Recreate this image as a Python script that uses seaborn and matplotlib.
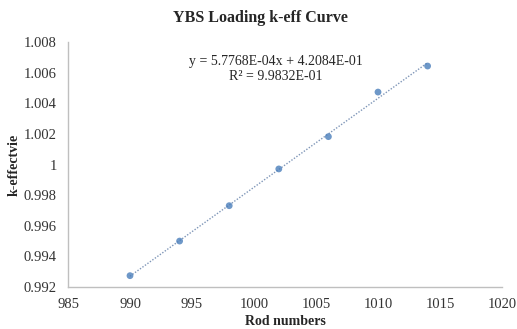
import numpy as np
import pandas as pd
import matplotlib
matplotlib.use("Agg")
import matplotlib.pyplot as plt
import seaborn as sns

rod_numbers = [990, 994, 998, 1002, 1006, 1010, 1014]
k_eff = [0.99274, 0.99500, 0.99731, 0.99971, 1.00182, 1.00473, 1.00643]
x_ticks = [985, 990, 995, 1000, 1005, 1010, 1015, 1020]
y_ticks = [0.992, 0.994, 0.996, 0.998, 1.0, 1.002, 1.004, 1.006, 1.008]
y_tick_labels = ["0.992", "0.994", "0.996", "0.998", "1", "1.002", "1.004", "1.006", "1.008"]
title = "YBS Loading k-eff Curve"
eq_text = "y = 5.7768E-04x + 4.2084E-01"
r2_text = "R² = 9.9832E-01"

sns.set_style("white")
plt.rcParams['font.family'] = ['Liberation Serif', 'DejaVu Serif']

df = pd.DataFrame({"rod": rod_numbers, "keff": k_eff})

fig = plt.figure(figsize=(5.17, 3.29), dpi=100)
ax = fig.add_axes([68/517, (329-287)/329, (502-68)/517, (287-42)/329])

point_color = "#4A7EBB"
sns.regplot(data=df, x="rod", y="keff", ax=ax, ci=None, truncate=True,
            scatter_kws=dict(s=24, color=point_color, edgecolor="none", zorder=3),
            line_kws=dict(color="#7f96b8", linestyle=(0, (1, 1.2)), linewidth=1.0, zorder=2))

ax.set_xlim(985, 1020)
ax.set_ylim(0.992, 1.008)
ax.set_xticks(x_ticks)
ax.set_xticklabels([str(v) for v in x_ticks], fontsize=10.5)
ax.set_yticks(y_ticks)
ax.set_yticklabels(y_tick_labels, fontsize=10.5)
ax.tick_params(axis="y", length=0, pad=8, colors="#333333")
ax.tick_params(axis="x", length=0, pad=8, colors="#333333")
for s in ["top", "right"]:
    ax.spines[s].set_visible(False)
for s in ["left", "bottom"]:
    ax.spines[s].set_color("#bfbfbf")
    ax.spines[s].set_linewidth(1.0)

ax.set_xlabel("Rod numbers", fontsize=10, fontweight="bold", labelpad=3)
ax.set_ylabel("k-effectvie", fontsize=10, fontweight="bold", labelpad=2)

fig.text(260/517, 1 - 18/329, title, ha="center", va="center", fontsize=11.5, fontweight="bold")
ax.text(276/517, 1 - 62/329, eq_text, transform=fig.transFigure, ha="center", va="center", fontsize=10)
ax.text(276/517, 1 - 77/329, r2_text, transform=fig.transFigure, ha="center", va="center", fontsize=10)

fig.savefig("out.png", dpi=100)
